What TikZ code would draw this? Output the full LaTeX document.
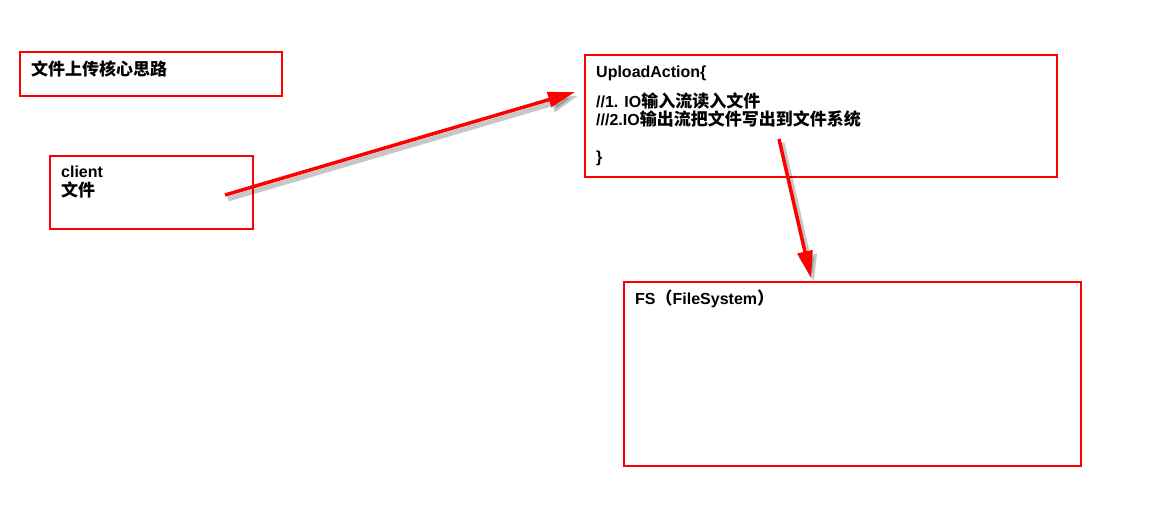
\documentclass[tikz,border=0pt]{standalone}
\usepackage{fontspec}
\setmainfont{Liberation Sans}
\newfontfamily\cjk[Scale=1.0625]{Noto Sans CJK SC}
\usepackage{tikz}
\usetikzlibrary{positioning,arrows.meta}

\begin{document}
\begin{tikzpicture}[x=1pt,y=-1pt,node distance=0pt]
    \tikzset{box/.style={draw=red,line width=2pt,rectangle,anchor=north west,inner sep=0pt}}
    \tikzset{note/.style={anchor=north west,inner sep=0pt,align=left,
        font=\fontsize{16}{18.5}\selectfont\bfseries,execute at begin node={\rule{0pt}{14pt}}}}
    \tikzset{flow/.style={red,line width=3.5pt,-{Triangle[length=27pt,width=15pt]}}}
    \tikzset{flowshade/.style={black,opacity=0.22,line width=5pt,-{Triangle[length=27pt,width=17pt]},
        transform canvas={shift={(3,4)}}}}
    \useasboundingbox (0,0) rectangle (1176,509);

    \node[box,minimum width=262pt,minimum height=44pt] (title) at (19,51) {};
    \node[box,minimum width=203pt,minimum height=73pt] (client) at (49,155) {};
    \node[box,minimum width=472pt,minimum height=122pt] (upload) at (584,54) {};
    \node[box,minimum width=457pt,minimum height=184pt] (fs) at (623,281) {};

    \node[note] (titletext) [below right = 10pt and 12pt of title.north west] {{\cjk 文件上传核心思路}};
    \node[note] (clienttext) [below right = 11pt and 12pt of client.north west] {client\\{\cjk 文件}};
    \node[note] (uploadtext) [below right = 12pt and 12pt of upload.north west]
        {UploadAction\{\\[11pt]//1. IO{\cjk 输入流读入文件}\\///2.IO{\cjk 输出流把文件写出到文件系统}\\\\\}};
    \node[note] (fstext) [below right = 9pt and 12pt of fs.north west] {FS{\cjk （}FileSystem{\cjk ）}};

    \coordinate (clientout) at ([shift={(-29,2.5)}]client.east);
    \coordinate (uploadin) at ([shift={(-9,-24)}]upload.west);
    \coordinate (uploadout) at ([shift={(-42,-39)}]upload.south);
    \coordinate (fsin) at ([shift={(-41.5,-3)}]fs.north);

    \draw[flowshade] (clientout) -- (uploadin);
    \draw[flowshade] (uploadout) -- (fsin);
    \draw[flow] (clientout) -- (uploadin);
    \draw[flow] (uploadout) -- (fsin);
\end{tikzpicture}
\end{document}
